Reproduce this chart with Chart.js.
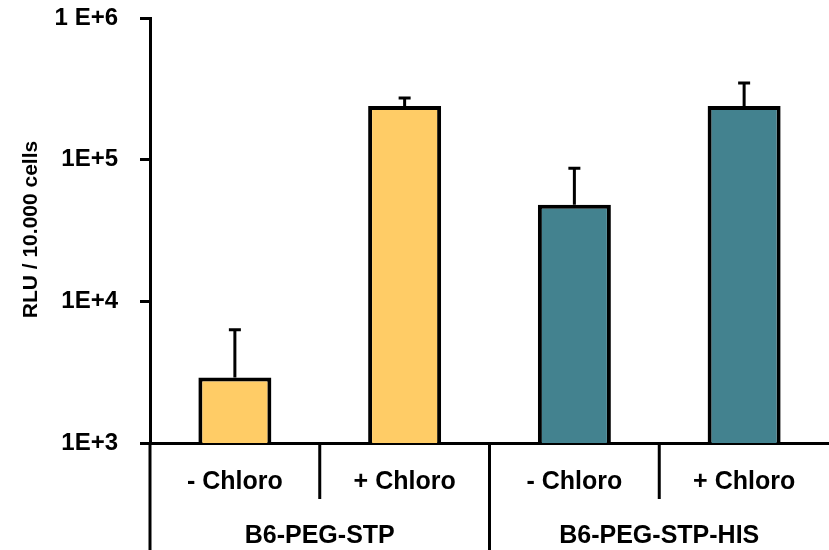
<!DOCTYPE html>
<html>
<head>
<meta charset="utf-8">
<script src="https://cdn.jsdelivr.net/npm/chart.js@4"></script>
<style>
  html, body { margin: 0; padding: 0; background: #ffffff; }
  #wrap { width: 829px; height: 550px; }
</style>
</head>
<body>
<div id="wrap"><canvas id="c" width="829" height="550"></canvas></div>
<script>
// Luciferase expression per 10,000 cells, with and without chloroquine
const categories = ["- Chloro", "+ Chloro", "- Chloro", "+ Chloro"];
const groups = ["B6-PEG-STP", "B6-PEG-STP-HIS"];
const groupSizes = [2, 2];
const rluMeans = [2900, 239000, 48000, 239000];
const rluErrors = [3400, 33000, 39000, 108000];
const barColors = ["#FFCC66", "#FFCC66", "#43828F", "#43828F"];
const tickValues = [1000, 10000, 100000, 1000000];
const tickLabels = ["1E+3", "1E+4", "1E+5", "1 E+6"];
const yTitle = "RLU / 10.000 cells";

const FONT = "'Liberation Sans', Arial, sans-serif";

// Upward error bars, drawn from each bar top through the y scale
const errorBars = {
  id: "errorBars",
  afterDatasetsDraw(chart) {
    const ctx = chart.ctx;
    const meta = chart.getDatasetMeta(0);
    const y = chart.scales.y;
    ctx.save();
    ctx.strokeStyle = "#000";
    ctx.lineWidth = 3;
    meta.data.forEach((bar, i) => {
      const yTop = y.getPixelForValue(rluMeans[i]);
      const yErr = y.getPixelForValue(rluMeans[i] + rluErrors[i]);
      ctx.beginPath();
      ctx.moveTo(bar.x, yTop);
      ctx.lineTo(bar.x, yErr);
      ctx.moveTo(bar.x - 6, yErr);
      ctx.lineTo(bar.x + 6, yErr);
      ctx.stroke();
    });
    ctx.restore();
  }
};

// Two-level category axis: condition labels, group labels and dividers
const groupedAxis = {
  id: "groupedAxis",
  afterDraw(chart) {
    const ctx = chart.ctx;
    const x = chart.scales.x;
    const area = chart.chartArea;
    const H = chart.height;
    const centers = categories.map((_, i) => x.getPixelForValue(i));
    const step = centers.length > 1 ? centers[1] - centers[0] : area.right - area.left;
    ctx.save();
    ctx.strokeStyle = "#000";
    ctx.lineWidth = 3;
    // y axis line continues down through the label rows
    ctx.beginPath();
    ctx.moveTo(area.left, area.bottom);
    ctx.lineTo(area.left, H);
    ctx.stroke();
    // dividers between categories; longer ones between groups
    const groupEnds = [];
    let acc = 0;
    groupSizes.forEach(s => { acc += s; groupEnds.push(acc); });
    for (let i = 1; i < categories.length; i++) {
      const bx = centers[i] - step / 2;
      const isGroupEdge = groupEnds.includes(i);
      ctx.beginPath();
      ctx.moveTo(bx, area.bottom);
      ctx.lineTo(bx, isGroupEdge ? H : area.bottom + 56);
      ctx.stroke();
    }
    ctx.fillStyle = "#000";
    ctx.textAlign = "center";
    ctx.textBaseline = "middle";
    ctx.font = "bold 25px " + FONT;
    categories.forEach((c, i) => ctx.fillText(c, centers[i], area.bottom + 39));
    let start = 0;
    groups.forEach((g, gi) => {
      const end = start + groupSizes[gi] - 1;
      const gx = (centers[start] + centers[end]) / 2;
      ctx.fillText(g, gx, area.bottom + 93);
      start = end + 1;
    });
    // rotated y axis title
    ctx.font = "bold 21px " + FONT;
    ctx.translate(31, (area.top + area.bottom) / 2 - 1);
    ctx.rotate(-Math.PI / 2);
    ctx.fillText(yTitle, 0, 0);
    ctx.restore();
  }
};

new Chart(document.getElementById("c"), {
  type: "bar",
  data: {
    labels: categories,
    datasets: [{
      data: rluMeans,
      backgroundColor: barColors,
      borderColor: "#000",
      borderWidth: 4,
      barPercentage: 0.43,
      categoryPercentage: 1.0
    }]
  },
  options: {
    responsive: false,
    animation: false,
    devicePixelRatio: 1,
    layout: { padding: { top: 18, right: 0, left: 0, bottom: 0 } },
    plugins: { legend: { display: false }, tooltip: { enabled: false } },
    scales: {
      x: {
        type: "category",
        offset: true,
        grid: { display: false, drawTicks: false },
        border: { display: true, color: "#000", width: 3 },
        ticks: { display: false },
        afterFit(scale) {
          scale.height = 107;
          scale.paddingLeft = 0;
          scale.paddingRight = 0;
        }
      },
      y: {
        type: "logarithmic",
        min: tickValues[0],
        max: tickValues[tickValues.length - 1],
        afterBuildTicks(scale) {
          scale.ticks = tickValues.map(v => ({ value: v }));
        },
        ticks: {
          autoSkip: false,
          padding: 22,
          color: "#000",
          font: { family: FONT, size: 24, weight: "bold" },
          callback: (v, i) => tickLabels[i]
        },
        grid: {
          display: true,
          drawOnChartArea: false,
          drawTicks: true,
          tickLength: 10,
          tickWidth: 3,
          tickColor: "#000"
        },
        border: { display: true, color: "#000", width: 3 },
        afterFit(scale) {
          scale.width = 150;
          scale.paddingTop = 0;
          scale.paddingBottom = 0;
        }
      }
    }
  },
  plugins: [errorBars, groupedAxis]
});
</script>
</body>
</html>
